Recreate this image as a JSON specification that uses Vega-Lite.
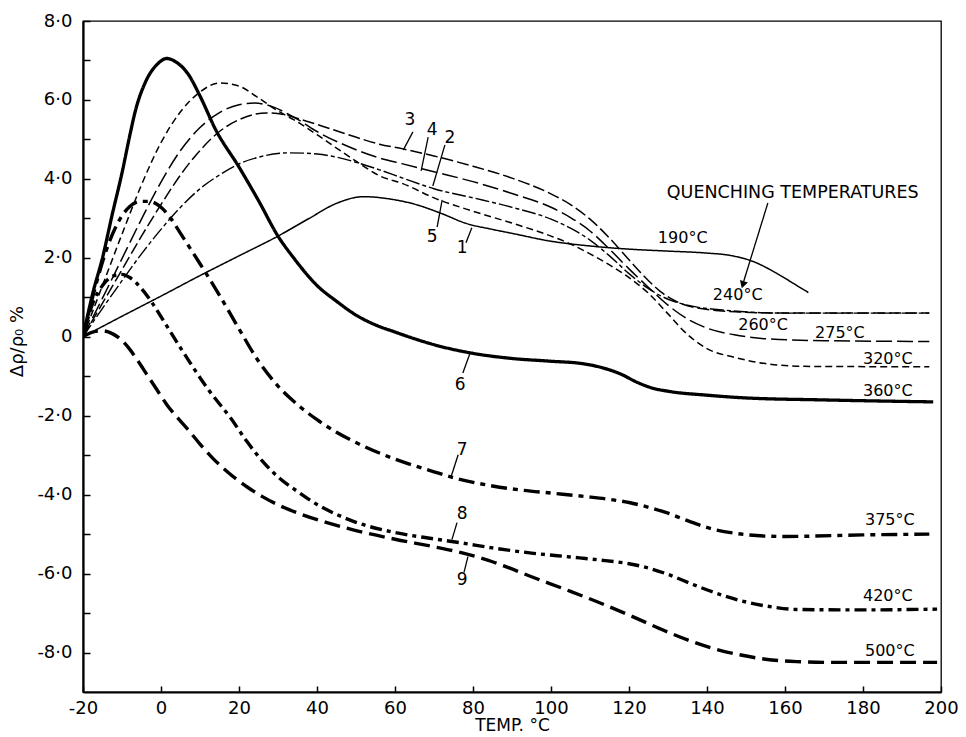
{
  "$schema": "https://vega.github.io/schema/vega-lite/v6.json",
  "width": 858,
  "height": 671,
  "autosize": "none",
  "padding": {"left": 83, "top": 21, "right": 25, "bottom": 45},
  "background": "white",
  "config": {
    "view": {"stroke": "black", "strokeWidth": 1.3},
    "font": "DejaVu Sans",
    "axis": {"grid": false, "domainColor": "black", "domainWidth": 2.2, "tickColor": "black", "labelColor": "black", "titleColor": "black", "labelFont": "DejaVu Sans", "titleFont": "DejaVu Sans", "labelFontSize": 18, "titleFontSize": 17, "titleFontWeight": "normal"}
  },
  "layer": [
    {
      "data": {"values": [
        {"c":"1","t":-20,"v":0},{"c":"1","t":-10,"v":0.52},{"c":"1","t":0,"v":1.03},{"c":"1","t":10,"v":1.55},{"c":"1","t":20,"v":2.05},{"c":"1","t":30,"v":2.55},{"c":"1","t":38,"v":3.0},{"c":"1","t":45,"v":3.38},{"c":"1","t":52,"v":3.55},{"c":"1","t":58,"v":3.5},{"c":"1","t":65,"v":3.36},{"c":"1","t":72,"v":3.12},{"c":"1","t":78,"v":2.88},{"c":"1","t":85,"v":2.72},{"c":"1","t":90,"v":2.62},{"c":"1","t":100,"v":2.42},{"c":"1","t":110,"v":2.3},{"c":"1","t":120,"v":2.22},{"c":"1","t":130,"v":2.17},{"c":"1","t":140,"v":2.12},{"c":"1","t":146,"v":2.06},{"c":"1","t":152,"v":1.9},{"c":"1","t":158,"v":1.6},{"c":"1","t":163,"v":1.3},{"c":"1","t":166,"v":1.12},

        {"c":"2","t":-20,"v":0},{"c":"2","t":-15,"v":0.72},{"c":"2","t":-10,"v":1.42},{"c":"2","t":-5,"v":2.1},{"c":"2","t":0,"v":2.72},{"c":"2","t":5,"v":3.28},{"c":"2","t":10,"v":3.75},{"c":"2","t":15,"v":4.1},{"c":"2","t":20,"v":4.38},{"c":"2","t":25,"v":4.55},{"c":"2","t":33,"v":4.66},{"c":"2","t":40,"v":4.63},{"c":"2","t":45,"v":4.55},{"c":"2","t":50,"v":4.42},{"c":"2","t":56,"v":4.23},{"c":"2","t":62,"v":4.02},{"c":"2","t":70,"v":3.75},{"c":"2","t":80,"v":3.52},{"c":"2","t":90,"v":3.28},{"c":"2","t":100,"v":2.98},{"c":"2","t":105,"v":2.75},{"c":"2","t":110,"v":2.45},{"c":"2","t":115,"v":2.05},{"c":"2","t":120,"v":1.6},{"c":"2","t":125,"v":1.22},{"c":"2","t":130,"v":0.95},{"c":"2","t":135,"v":0.8},{"c":"2","t":145,"v":0.67},{"c":"2","t":160,"v":0.6},{"c":"2","t":197,"v":0.6},

        {"c":"3","t":-20,"v":0},{"c":"3","t":-15,"v":0.85},{"c":"3","t":-10,"v":1.7},{"c":"3","t":-5,"v":2.55},{"c":"3","t":0,"v":3.35},{"c":"3","t":5,"v":4.1},{"c":"3","t":10,"v":4.72},{"c":"3","t":15,"v":5.2},{"c":"3","t":20,"v":5.5},{"c":"3","t":27,"v":5.67},{"c":"3","t":32,"v":5.62},{"c":"3","t":36,"v":5.5},{"c":"3","t":40,"v":5.38},{"c":"3","t":48,"v":5.12},{"c":"3","t":56,"v":4.88},{"c":"3","t":62,"v":4.76},{"c":"3","t":70,"v":4.58},{"c":"3","t":80,"v":4.32},{"c":"3","t":90,"v":4.02},{"c":"3","t":100,"v":3.62},{"c":"3","t":105,"v":3.35},{"c":"3","t":110,"v":2.98},{"c":"3","t":115,"v":2.5},{"c":"3","t":120,"v":1.95},{"c":"3","t":125,"v":1.42},{"c":"3","t":128,"v":1.15},{"c":"3","t":132,"v":0.9},{"c":"3","t":138,"v":0.72},{"c":"3","t":148,"v":0.63},{"c":"3","t":160,"v":0.6},{"c":"3","t":197,"v":0.6},

        {"c":"4","t":-20,"v":0},{"c":"4","t":-15,"v":0.98},{"c":"4","t":-10,"v":1.98},{"c":"4","t":-5,"v":2.98},{"c":"4","t":0,"v":3.92},{"c":"4","t":5,"v":4.72},{"c":"4","t":10,"v":5.3},{"c":"4","t":15,"v":5.68},{"c":"4","t":20,"v":5.88},{"c":"4","t":24,"v":5.92},{"c":"4","t":28,"v":5.85},{"c":"4","t":33,"v":5.62},{"c":"4","t":36,"v":5.45},{"c":"4","t":40,"v":5.2},{"c":"4","t":48,"v":4.82},{"c":"4","t":56,"v":4.53},{"c":"4","t":62,"v":4.38},{"c":"4","t":70,"v":4.18},{"c":"4","t":80,"v":3.93},{"c":"4","t":90,"v":3.63},{"c":"4","t":100,"v":3.28},{"c":"4","t":105,"v":3.02},{"c":"4","t":110,"v":2.68},{"c":"4","t":115,"v":2.22},{"c":"4","t":120,"v":1.72},{"c":"4","t":125,"v":1.25},{"c":"4","t":130,"v":0.8},{"c":"4","t":135,"v":0.45},{"c":"4","t":140,"v":0.22},{"c":"4","t":147,"v":0.05},{"c":"4","t":155,"v":-0.05},{"c":"4","t":170,"v":-0.1},{"c":"4","t":197,"v":-0.12},

        {"c":"5","t":-20,"v":0},{"c":"5","t":-15,"v":1.3},{"c":"5","t":-10,"v":2.6},{"c":"5","t":-5,"v":3.85},{"c":"5","t":0,"v":4.92},{"c":"5","t":5,"v":5.7},{"c":"5","t":10,"v":6.2},{"c":"5","t":15,"v":6.43},{"c":"5","t":20,"v":6.35},{"c":"5","t":25,"v":6.05},{"c":"5","t":30,"v":5.72},{"c":"5","t":34,"v":5.5},{"c":"5","t":40,"v":5.12},{"c":"5","t":45,"v":4.78},{"c":"5","t":50,"v":4.45},{"c":"5","t":56,"v":4.08},{"c":"5","t":62,"v":3.88},{"c":"5","t":70,"v":3.52},{"c":"5","t":80,"v":3.18},{"c":"5","t":90,"v":2.88},{"c":"5","t":100,"v":2.55},{"c":"5","t":105,"v":2.35},{"c":"5","t":110,"v":2.1},{"c":"5","t":115,"v":1.82},{"c":"5","t":120,"v":1.5},{"c":"5","t":125,"v":1.1},{"c":"5","t":130,"v":0.58},{"c":"5","t":134,"v":0.15},{"c":"5","t":140,"v":-0.3},{"c":"5","t":147,"v":-0.52},{"c":"5","t":155,"v":-0.68},{"c":"5","t":165,"v":-0.75},{"c":"5","t":197,"v":-0.76},

        {"c":"6","t":-20,"v":0},{"c":"6","t":-17.5,"v":1.1},{"c":"6","t":-15,"v":2.0},{"c":"6","t":-12.5,"v":3.1},{"c":"6","t":-10,"v":4.15},{"c":"6","t":-8,"v":5.1},{"c":"6","t":-6.5,"v":5.75},{"c":"6","t":-4,"v":6.45},{"c":"6","t":-1,"v":6.9},{"c":"6","t":1.5,"v":7.05},{"c":"6","t":4,"v":6.95},{"c":"6","t":7,"v":6.65},{"c":"6","t":10,"v":6.1},{"c":"6","t":14,"v":5.25},{"c":"6","t":20,"v":4.3},{"c":"6","t":25,"v":3.45},{"c":"6","t":30,"v":2.55},{"c":"6","t":34,"v":2.0},{"c":"6","t":40,"v":1.3},{"c":"6","t":45,"v":0.9},{"c":"6","t":50,"v":0.55},{"c":"6","t":55,"v":0.3},{"c":"6","t":60,"v":0.12},{"c":"6","t":65,"v":-0.05},{"c":"6","t":70,"v":-0.2},{"c":"6","t":80,"v":-0.42},{"c":"6","t":90,"v":-0.55},{"c":"6","t":100,"v":-0.62},{"c":"6","t":108,"v":-0.68},{"c":"6","t":113,"v":-0.78},{"c":"6","t":118,"v":-0.95},{"c":"6","t":122,"v":-1.15},{"c":"6","t":126,"v":-1.3},{"c":"6","t":130,"v":-1.38},{"c":"6","t":140,"v":-1.48},{"c":"6","t":150,"v":-1.55},{"c":"6","t":170,"v":-1.6},{"c":"6","t":198,"v":-1.65},

        {"c":"7","t":-20,"v":0},{"c":"7","t":-17,"v":1.2},{"c":"7","t":-14,"v":2.2},{"c":"7","t":-11,"v":2.9},{"c":"7","t":-8,"v":3.3},{"c":"7","t":-5,"v":3.43},{"c":"7","t":-3,"v":3.43},{"c":"7","t":0,"v":3.28},{"c":"7","t":2.5,"v":3.0},{"c":"7","t":5,"v":2.62},{"c":"7","t":10,"v":1.85},{"c":"7","t":15,"v":1.05},{"c":"7","t":20,"v":0.2},{"c":"7","t":25,"v":-0.62},{"c":"7","t":30,"v":-1.25},{"c":"7","t":35,"v":-1.72},{"c":"7","t":40,"v":-2.1},{"c":"7","t":45,"v":-2.42},{"c":"7","t":50,"v":-2.68},{"c":"7","t":60,"v":-3.1},{"c":"7","t":70,"v":-3.42},{"c":"7","t":75,"v":-3.57},{"c":"7","t":85,"v":-3.78},{"c":"7","t":92,"v":-3.88},{"c":"7","t":100,"v":-3.96},{"c":"7","t":109,"v":-4.05},{"c":"7","t":115,"v":-4.12},{"c":"7","t":120,"v":-4.2},{"c":"7","t":125,"v":-4.32},{"c":"7","t":130,"v":-4.47},{"c":"7","t":135,"v":-4.66},{"c":"7","t":141,"v":-4.86},{"c":"7","t":148,"v":-4.99},{"c":"7","t":155,"v":-5.05},{"c":"7","t":160,"v":-5.06},{"c":"7","t":180,"v":-5.02},{"c":"7","t":197,"v":-5.0},

        {"c":"8","t":-20,"v":0},{"c":"8","t":-17.5,"v":0.85},{"c":"8","t":-15,"v":1.3},{"c":"8","t":-12,"v":1.55},{"c":"8","t":-10,"v":1.58},{"c":"8","t":-8,"v":1.5},{"c":"8","t":-5,"v":1.22},{"c":"8","t":-2,"v":0.82},{"c":"8","t":1,"v":0.35},{"c":"8","t":5,"v":-0.28},{"c":"8","t":8,"v":-0.74},{"c":"8","t":12,"v":-1.32},{"c":"8","t":18,"v":-2.08},{"c":"8","t":22,"v":-2.65},{"c":"8","t":26,"v":-3.15},{"c":"8","t":30,"v":-3.55},{"c":"8","t":35,"v":-3.92},{"c":"8","t":40,"v":-4.25},{"c":"8","t":45,"v":-4.5},{"c":"8","t":50,"v":-4.7},{"c":"8","t":60,"v":-4.96},{"c":"8","t":70,"v":-5.12},{"c":"8","t":77.5,"v":-5.23},{"c":"8","t":85,"v":-5.35},{"c":"8","t":95,"v":-5.48},{"c":"8","t":105,"v":-5.58},{"c":"8","t":112,"v":-5.65},{"c":"8","t":120,"v":-5.75},{"c":"8","t":125,"v":-5.86},{"c":"8","t":130,"v":-6.02},{"c":"8","t":137,"v":-6.3},{"c":"8","t":144,"v":-6.55},{"c":"8","t":150,"v":-6.72},{"c":"8","t":157,"v":-6.85},{"c":"8","t":163,"v":-6.91},{"c":"8","t":180,"v":-6.92},{"c":"8","t":199,"v":-6.9},

        {"c":"9","t":-20,"v":0},{"c":"9","t":-17.5,"v":0.12},{"c":"9","t":-15,"v":0.15},{"c":"9","t":-12.5,"v":0.08},{"c":"9","t":-10.5,"v":-0.05},{"c":"9","t":-8,"v":-0.32},{"c":"9","t":-6,"v":-0.6},{"c":"9","t":-3.6,"v":-0.96},{"c":"9","t":-1,"v":-1.35},{"c":"9","t":1.5,"v":-1.72},{"c":"9","t":4.5,"v":-2.08},{"c":"9","t":7.5,"v":-2.42},{"c":"9","t":10,"v":-2.72},{"c":"9","t":13.3,"v":-3.08},{"c":"9","t":17,"v":-3.42},{"c":"9","t":22,"v":-3.8},{"c":"9","t":26,"v":-4.05},{"c":"9","t":30.5,"v":-4.28},{"c":"9","t":36,"v":-4.5},{"c":"9","t":43,"v":-4.72},{"c":"9","t":50,"v":-4.91},{"c":"9","t":60,"v":-5.13},{"c":"9","t":70,"v":-5.32},{"c":"9","t":77.5,"v":-5.48},{"c":"9","t":85,"v":-5.7},{"c":"9","t":95,"v":-6.08},{"c":"9","t":105,"v":-6.45},{"c":"9","t":112,"v":-6.72},{"c":"9","t":120,"v":-7.05},{"c":"9","t":128,"v":-7.4},{"c":"9","t":135,"v":-7.68},{"c":"9","t":141,"v":-7.88},{"c":"9","t":148,"v":-8.05},{"c":"9","t":155,"v":-8.17},{"c":"9","t":163,"v":-8.23},{"c":"9","t":172,"v":-8.25},{"c":"9","t":199,"v":-8.25}
      ]},
      "mark": {"type": "line", "interpolate": "monotone", "color": "black", "clip": true},
      "encoding": {
        "x": {"field": "t", "type": "quantitative",
          "scale": {"domain": [-20, 200], "nice": false, "zero": false},
          "axis": {"title": "TEMP. °C", "values": [-20,-10,0,10,20,30,40,50,60,70,80,90,100,110,120,130,140,150,160,170,180,190,200],
            "labelExpr": "datum.value % 20 == 0 ? replace(datum.label, '−', '-') : ''", "tickSize": -6, "tickWidth": 1.5, "labelPadding": 13, "titlePadding": 0, "labelFlush": false}},
        "y": {"field": "v", "type": "quantitative",
          "scale": {"domain": [-9, 8], "nice": false, "zero": false},
          "axis": {"title": "Δρ/ρ₀ %", "values": [-8,-7,-6,-5,-4,-3,-2,-1,0,1,2,3,4,5,6,7,8],
            "format": ".1f",
            "labelExpr": "datum.value % 2 == 0 ? (datum.value == 0 ? '0' : replace(replace(datum.label, '.', '·'), '−', '-')) : ''", "tickSize": -7, "tickWidth": 1.5, "labelPadding": 18, "titlePadding": 10, "titleFontSize": 18, "titleY": 320, "labelFlush": false, "labelOverlap": false}},
        "detail": {"field": "c"},
        "strokeDash": {"field": "c", "type": "nominal", "legend": null,
          "scale": {"type": "ordinal", "domain": ["1","2","3","4","5","6","7","8","9"],
            "range": [[1,0],[14,3,4,3],[12,4],[16,5],[7,4],[1,0],[16,6,5,6],[12,5,4,5],[16,7]]}},
        "strokeWidth": {"field": "c", "type": "nominal", "legend": null,
          "scale": {"type": "ordinal", "domain": ["1","2","3","4","5","6","7","8","9"],
            "range": [1.5,1.4,1.5,1.5,1.5,3.3,3.4,3.4,3.4]}}
      }
    },
    {
      "data": {"values": [
        {"t1":64.6,"v1":5.19,"t2":62.1,"v2":4.73},
        {"t1":68.5,"v1":5.06,"t2":66.7,"v2":4.2},
        {"t1":72.8,"v1":4.86,"t2":69.7,"v2":3.82},
        {"t1":72.1,"v1":3.47,"t2":70.8,"v2":2.78},
        {"t1":79.7,"v1":2.76,"t2":78.2,"v2":2.38},
        {"t1":79.3,"v1":-0.4,"t2":77.4,"v2":-0.92},
        {"t1":76.2,"v1":-2.99,"t2":74.4,"v2":-3.54},
        {"t1":75.9,"v1":-4.71,"t2":74.6,"v2":-5.14},
        {"t1":78.7,"v1":-5.57,"t2":77.7,"v2":-5.97},
        {"t1":155.6,"v1":3.39,"t2":149.4,"v2":1.4}
      ]},
      "mark": {"type": "rule", "color": "black", "strokeWidth": 1.3},
      "encoding": {
        "x": {"field": "t1", "type": "quantitative"},
        "y": {"field": "v1", "type": "quantitative"},
        "x2": {"field": "t2"},
        "y2": {"field": "v2"}
      }
    },
    {
      "data": {"values": [{"t": 149.2, "v": 1.32}]},
      "mark": {"type": "point", "shape": "triangle-down", "filled": true, "color": "black", "size": 70, "angle": 17, "opacity": 1},
      "encoding": {
        "x": {"field": "t", "type": "quantitative"},
        "y": {"field": "v", "type": "quantitative"}
      }
    },
    {
      "data": {"values": [
        {"t":63.8,"v":5.49,"s":"3"},
        {"t":69.5,"v":5.24,"s":"4"},
        {"t":74.1,"v":5.04,"s":"2"},
        {"t":69.5,"v":2.53,"s":"5"},
        {"t":77.2,"v":2.25,"s":"1"},
        {"t":76.7,"v":-1.22,"s":"6"},
        {"t":77.2,"v":-2.86,"s":"7"},
        {"t":77.2,"v":-4.5,"s":"8"},
        {"t":77.2,"v":-6.15,"s":"9"}
      ]},
      "mark": {"type": "text", "align": "center", "baseline": "middle", "fontSize": 17, "color": "black", "font": "DejaVu Sans"},
      "encoding": {
        "x": {"field": "t", "type": "quantitative"},
        "y": {"field": "v", "type": "quantitative"},
        "text": {"field": "s"}
      }
    },
    {
      "data": {"values": [
        {"t":127.4,"v":2.5,"s":"190°C"},
        {"t":141.5,"v":1.06,"s":"240°C"},
        {"t":148,"v":0.3,"s":"260°C"},
        {"t":167.7,"v":0.1,"s":"275°C"},
        {"t":180,"v":-0.56,"s":"320°C"},
        {"t":180,"v":-1.37,"s":"360°C"},
        {"t":180.5,"v":-4.63,"s":"375°C"},
        {"t":180,"v":-6.58,"s":"420°C"},
        {"t":180.5,"v":-7.97,"s":"500°C"}
      ]},
      "mark": {"type": "text", "align": "left", "baseline": "middle", "fontSize": 16, "color": "black", "font": "DejaVu Sans"},
      "encoding": {
        "x": {"field": "t", "type": "quantitative"},
        "y": {"field": "v", "type": "quantitative"},
        "text": {"field": "s"}
      }
    },
    {
      "data": {"values": [
        {"t":129.7,"v":3.65,"s":"QUENCHING TEMPERATURES"}
      ]},
      "mark": {"type": "text", "align": "left", "baseline": "middle", "fontSize": 17.5, "color": "black", "font": "DejaVu Sans"},
      "encoding": {
        "x": {"field": "t", "type": "quantitative"},
        "y": {"field": "v", "type": "quantitative"},
        "text": {"field": "s"}
      }
    }
  ]
}
